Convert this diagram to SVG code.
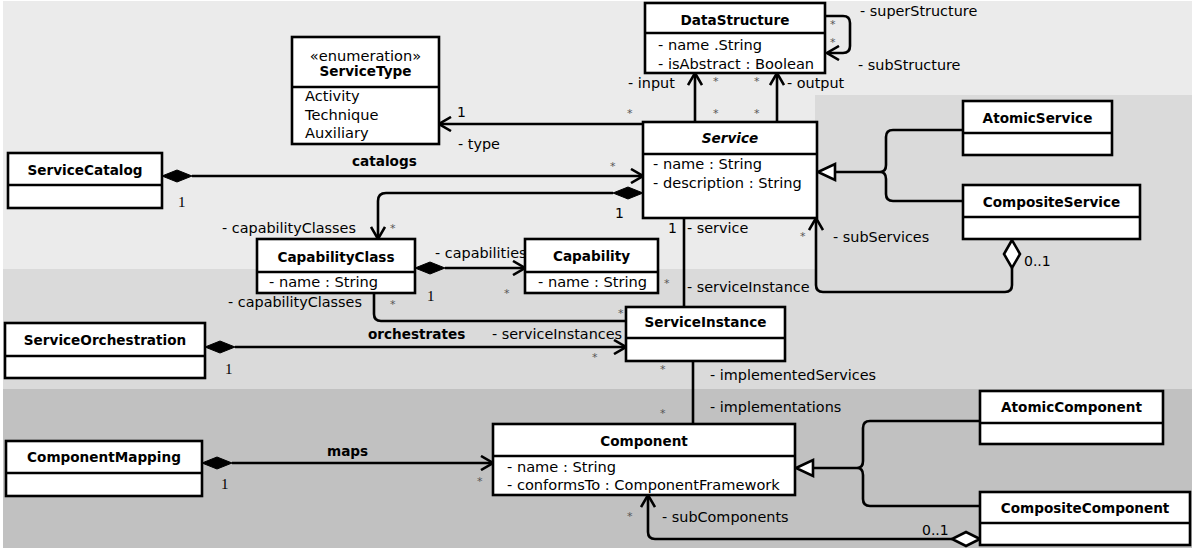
<svg xmlns="http://www.w3.org/2000/svg" width="1192" height="551" viewBox="0 0 1192 551">
<style>
.box{fill:#fff;stroke:#000;stroke-width:2.6}
.div{stroke:#000;stroke-width:2.6}
.t{font-family:"DejaVu Sans",sans-serif;font-weight:bold;font-size:13.6px;text-anchor:middle;fill:#000}
.a{font-family:"DejaVu Sans",sans-serif;font-size:14.6px;fill:#000}
.l{font-family:"DejaVu Sans",sans-serif;font-size:14.4px;fill:#000}
.b{font-family:"DejaVu Sans",sans-serif;font-size:13.6px;font-weight:bold;fill:#000}
.m{font-family:"DejaVu Sans",sans-serif;font-size:14px;fill:#000}
.ms{font-family:"Liberation Serif",serif;font-size:15px;fill:#000}
.st{font-family:"DejaVu Sans",sans-serif;font-size:11px;fill:#555}
.c{fill:none;stroke:#000;stroke-width:2.6}
.fd{fill:#000;stroke:#000;stroke-width:1}
.hd{fill:#fff;stroke:#000;stroke-width:2.6}
</style>
<defs>
<marker id="open" viewBox="0 0 14 16" refX="13" refY="8" markerWidth="14" markerHeight="16" markerUnits="userSpaceOnUse" orient="auto">
<path d="M1,1 L13,8 L1,15" fill="none" stroke="#000" stroke-width="2.6"/>
</marker>
</defs>
<g id="background">
<rect x="3" y="1" width="1189" height="268" fill="#ebebeb"/>
<rect x="815" y="95" width="377" height="174" fill="#dadada"/>
<rect x="3" y="269" width="1189" height="120" fill="#dadada"/>
<rect x="3" y="389" width="1189" height="159" fill="#c1c1c1"/>
</g>
<g id="connectors">
<path class="c" d="M825,16 H843 Q850,16 850,23 V46 Q850,53 843,53 H827" marker-end="url(#open)"/>
<path class="c" d="M695,122 V73" marker-end="url(#open)"/>
<path class="c" d="M777,122 V73" marker-end="url(#open)"/>
<path class="c" d="M643,124 H439" marker-end="url(#open)"/>
<path class="c" d="M192,176 H643" marker-end="url(#open)"/>
<polygon class="fd" points="162,176 177,170 192,176 177,182"/>
<path class="c" d="M613,193 H386 Q378,193 378,201 V239" marker-end="url(#open)"/>
<polygon class="fd" points="643,193 628,187 613,193 628,199"/>
<path class="c" d="M445,268 H525" marker-end="url(#open)"/>
<polygon class="fd" points="415,268 430,262 445,268 430,274"/>
<path class="c" d="M684,218 V307"/>
<path class="c" d="M374,293 V314 Q374,321 381,321 H626"/>
<path class="c" d="M235,347 H626" marker-end="url(#open)"/>
<polygon class="fd" points="205,347 220,341 235,347 220,353"/>
<path class="c" d="M693,361 V424"/>
<path class="c" d="M232,463 H493" marker-end="url(#open)"/>
<polygon class="fd" points="202,463 217,457 232,463 217,469"/>
<path class="c" d="M835,172 H880"/>
<path class="c" d="M963,130 H893 Q886,130 886,137 V165 Q886,172 880,172 Q886,172 886,179 V194 Q886,201 893,201 H963"/>
<polygon class="hd" points="818,172 835,164 835,180"/>
<path class="c" d="M1012,268 V285 Q1012,292 1005,292 H823 Q816,292 816,285 V218" marker-end="url(#open)"/>
<polygon class="hd" points="1012,240 1004,254 1012,268 1020,254"/>
<path class="c" d="M813,468 H857"/>
<path class="c" d="M980,421 H870 Q863,421 863,428 V461 Q863,468 857,468 Q863,468 863,475 V499 Q863,506 870,506 H980"/>
<polygon class="hd" points="796,468 813,460 813,476"/>
<path class="c" d="M952,539 H655 Q648,539 648,532 V495" marker-end="url(#open)"/>
<polygon class="hd" points="980,539 966,532 952,539 966,546"/>
</g>
<g id="labels">
<text class="l" x="860" y="16">- superStructure</text>
<text class="l" x="858" y="70">- subStructure</text>
<text class="st" x="830" y="28">*</text>
<text class="st" x="830" y="46">*</text>
<text class="l" x="628" y="88">- input</text>
<text class="l" x="787" y="88">- output</text>
<text class="st" x="713" y="85">*</text>
<text class="st" x="754" y="85">*</text>
<text class="st" x="713" y="117">*</text>
<text class="st" x="754" y="117">*</text>
<text class="m" x="457" y="117">1</text>
<text class="st" x="627" y="117">*</text>
<text class="l" x="458" y="149">- type</text>
<text class="b" x="352" y="166">catalogs</text>
<text class="st" x="610" y="170">*</text>
<text class="ms" x="178" y="207">1</text>
<text class="m" x="615" y="218">1</text>
<text class="l" x="222" y="233">- capabilityClasses</text>
<text class="st" x="390" y="232">*</text>
<text class="l" x="435" y="258">- capabilities</text>
<text class="ms" x="427" y="301">1</text>
<text class="st" x="504" y="297">*</text>
<text class="m" x="668" y="233">1</text>
<text class="l" x="687" y="233">- service</text>
<text class="st" x="800" y="240">*</text>
<text class="l" x="833" y="242">- subServices</text>
<text class="m" x="1024" y="266">0..1</text>
<text class="st" x="664" y="287">*</text>
<text class="l" x="687" y="292">- serviceInstance</text>
<text class="l" x="228" y="307">- capabilityClasses</text>
<text class="st" x="390" y="308">*</text>
<text class="st" x="618" y="317">*</text>
<text class="b" x="368" y="339">orchestrates</text>
<text class="l" x="492" y="339">- serviceInstances</text>
<text class="ms" x="225" y="374">1</text>
<text class="st" x="592" y="361">*</text>
<text class="st" x="660" y="373">*</text>
<text class="l" x="710" y="380">- implementedServices</text>
<text class="st" x="660" y="417">*</text>
<text class="l" x="710" y="412">- implementations</text>
<text class="b" x="327" y="456">maps</text>
<text class="ms" x="221" y="489">1</text>
<text class="st" x="477" y="485">*</text>
<text class="st" x="627" y="520">*</text>
<text class="l" x="662" y="522">- subComponents</text>
<text class="m" x="922" y="535">0..1</text>
</g>
<g id="DataStructure">
<rect class="box" x="645" y="3" width="180" height="70"/>
<line class="div" x1="645" y1="33" x2="825" y2="33"/>
<text class="t" x="735" y="25">DataStructure</text>
<text class="a" x="658" y="50">- name .String</text>
<text class="a" x="658" y="69">- isAbstract : Boolean</text>
</g>
<g id="ServiceType">
<rect class="box" x="292" y="37" width="147" height="107"/>
<line class="div" x1="292" y1="87" x2="439" y2="87"/>
<text class="a" x="365.5" y="61" text-anchor="middle">«enumeration»</text>
<text class="t" x="365.5" y="76">ServiceType</text>
<text class="a" x="305" y="101">Activity</text>
<text class="a" x="305" y="120">Technique</text>
<text class="a" x="305" y="138">Auxiliary</text>
</g>
<g id="Service">
<rect class="box" x="643" y="122" width="174" height="96"/>
<line class="div" x1="643" y1="154" x2="817" y2="154"/>
<text class="t" x="730" y="143" font-style="italic">Service</text>
<text class="a" x="653" y="169">- name : String</text>
<text class="a" x="653" y="188">- description : String</text>
</g>
<g id="ServiceCatalog">
<rect class="box" x="8" y="153" width="154" height="55"/>
<line class="div" x1="8" y1="185" x2="162" y2="185"/>
<text class="t" x="85" y="175">ServiceCatalog</text>
</g>
<g id="CapabilityClass">
<rect class="box" x="257" y="239" width="158" height="54"/>
<line class="div" x1="257" y1="272" x2="415" y2="272"/>
<text class="t" x="336" y="262">CapabilityClass</text>
<text class="a" x="269" y="287">- name : String</text>
</g>
<g id="Capability">
<rect class="box" x="525" y="239" width="133" height="54"/>
<line class="div" x1="525" y1="272" x2="658" y2="272"/>
<text class="t" x="591.5" y="261">Capability</text>
<text class="a" x="538" y="287">- name : String</text>
</g>
<g id="ServiceInstance">
<rect class="box" x="626" y="307" width="159" height="54"/>
<line class="div" x1="626" y1="338" x2="785" y2="338"/>
<text class="t" x="705.5" y="327">ServiceInstance</text>
</g>
<g id="ServiceOrchestration">
<rect class="box" x="5" y="323" width="200" height="55"/>
<line class="div" x1="5" y1="356" x2="205" y2="356"/>
<text class="t" x="105" y="345">ServiceOrchestration</text>
</g>
<g id="AtomicService">
<rect class="box" x="963" y="101" width="149" height="54"/>
<line class="div" x1="963" y1="133" x2="1112" y2="133"/>
<text class="t" x="1037.5" y="123">AtomicService</text>
</g>
<g id="CompositeService">
<rect class="box" x="963" y="185" width="177" height="54"/>
<line class="div" x1="963" y1="217" x2="1140" y2="217"/>
<text class="t" x="1051.5" y="207">CompositeService</text>
</g>
<g id="Component">
<rect class="box" x="493" y="424" width="302" height="71"/>
<line class="div" x1="493" y1="456" x2="795" y2="456"/>
<text class="t" x="644" y="446">Component</text>
<text class="a" x="507" y="472">- name : String</text>
<text class="a" x="507" y="490">- conformsTo : ComponentFramework</text>
</g>
<g id="ComponentMapping">
<rect class="box" x="6" y="441" width="196" height="55"/>
<line class="div" x1="6" y1="473" x2="202" y2="473"/>
<text class="t" x="104" y="462">ComponentMapping</text>
</g>
<g id="AtomicComponent">
<rect class="box" x="980" y="391" width="183" height="53"/>
<line class="div" x1="980" y1="423" x2="1163" y2="423"/>
<text class="t" x="1071.5" y="412">AtomicComponent</text>
</g>
<g id="CompositeComponent">
<rect class="box" x="980" y="492" width="210" height="53"/>
<line class="div" x1="980" y1="523" x2="1190" y2="523"/>
<text class="t" x="1085" y="513">CompositeComponent</text>
</g>
</svg>
